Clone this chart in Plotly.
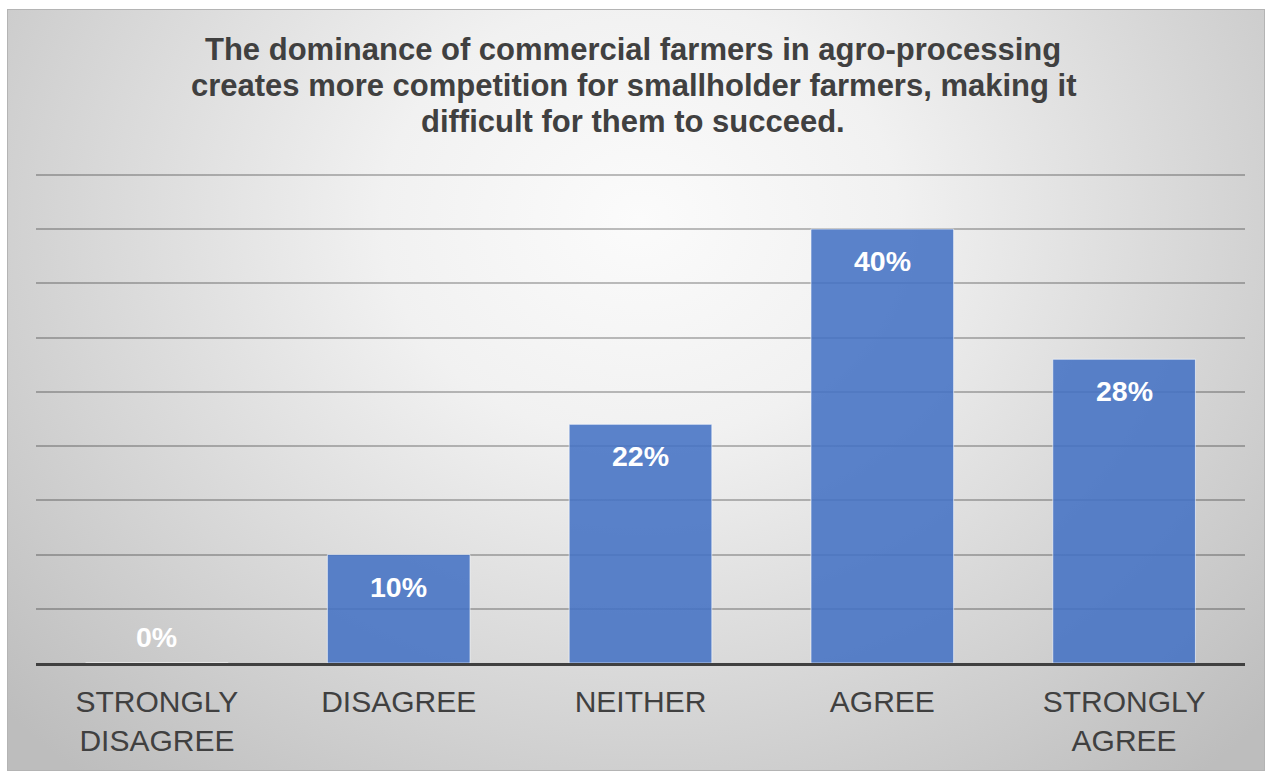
import base64
import plotly.graph_objects as go

# Survey responses
categories = ["STRONGLY<br>DISAGREE", "DISAGREE", "NEITHER", "AGREE", "STRONGLY<br>AGREE"]
percentages = [0, 10, 22, 40, 28]
title_lines = [
    "The dominance of commercial farmers in agro-processing",
    "creates more competition for smallholder farmers, making it",
    "difficult for them to succeed.",
]

W, H = 1265, 771
ML, MR, MT, MB = 36, 20, 164, 108
PW, PH = W - ML - MR, H - MT - MB


def px_x(x):
    return (x - ML) / PW


def px_y(y):
    return (H - MB - y) / PH


# Radial grey backdrop for the chart frame
svg = f"""<svg xmlns='http://www.w3.org/2000/svg' width='{W - 7}' height='{H - 9}' viewBox='0 0 {W - 7} {H - 9}'>
<defs><radialGradient id='g' gradientUnits='userSpaceOnUse' cx='633' cy='210' r='860'
 gradientTransform='translate(633 210) scale(1 0.85) translate(-633 -210)'>
<stop offset='0' stop-color='#fbfbfb'/><stop offset='0.3' stop-color='#f1f1f1'/>
<stop offset='1' stop-color='#bdbdbd'/></radialGradient></defs>
<rect x='0' y='0' width='{W - 7}' height='{H - 9}' fill='url(#g)'/>
<rect x='0.5' y='0.5' width='{W - 8}' height='{H - 10}' fill='none' stroke='#b4b4b4' stroke-width='1'/>
</svg>"""
bg_src = "data:image/svg+xml;base64," + base64.b64encode(svg.encode()).decode()

fig = go.Figure()
fig.add_trace(go.Bar(
    x=categories,
    y=percentages,
    marker=dict(color="rgba(68,114,196,0.88)", line=dict(color="rgba(255,255,255,0.6)", width=1)),
    hoverinfo="skip",
))

annotations = []
for cat, v in zip(categories, percentages):
    annotations.append(dict(
        x=cat, y=v, xref="x", yref="y", text=f"{v}%", showarrow=False,
        yanchor="middle", yshift=-32 if v > 0 else 26,
        font=dict(family="Arial, Liberation Sans", size=28.5, color="white", weight="bold"),
    ))

for i, line in enumerate(title_lines):
    annotations.append(dict(
        x=px_x(633), y=px_y(49 + i * 36.5), xref="paper", yref="paper",
        text=f"<b>{line}</b>", showarrow=False, xanchor="center", yanchor="middle",
        font=dict(family="Arial, Liberation Sans", size=31, color="#404040"),
    ))

fig.update_layout(
    width=W, height=H,
    margin=dict(l=ML, r=MR, t=MT, b=MB, pad=0),
    paper_bgcolor="white",
    plot_bgcolor="rgba(0,0,0,0)",
    bargap=0.41,
    showlegend=False,
    annotations=annotations,
    images=[dict(
        source=bg_src, xref="paper", yref="paper",
        x=px_x(7), y=px_y(9), sizex=(W - 7) / PW, sizey=(H - 9) / PH,
        xanchor="left", yanchor="top", sizing="stretch", layer="below",
    )],
    xaxis=dict(
        showline=True, linecolor="#404040", linewidth=3,
        showgrid=False, ticks="", ticklabelstandoff=10,
        tickfont=dict(family="Arial, Liberation Sans", size=30, color="#404040"),
    ),
    yaxis=dict(
        range=[0, 46], dtick=5, showticklabels=False, zeroline=False,
        showgrid=True, gridcolor="rgba(0,0,0,0.25)", gridwidth=1.5,
    ),
)

fig.write_html("out.html")
